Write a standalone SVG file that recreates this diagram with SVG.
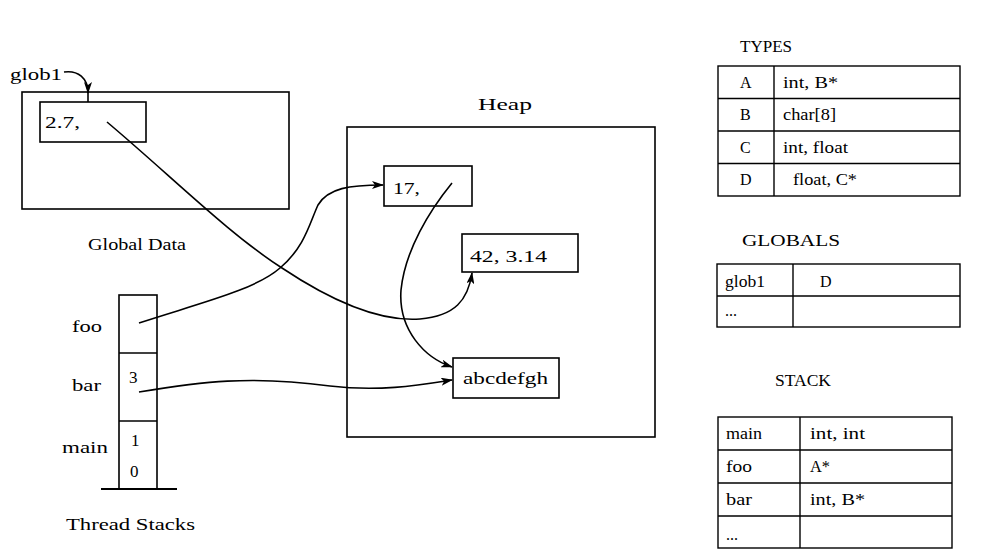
<svg xmlns="http://www.w3.org/2000/svg" width="997" height="556" viewBox="0 0 997 556">
<defs>
<marker id="ah" markerWidth="12" markerHeight="8" refX="11" refY="4" orient="auto" markerUnits="userSpaceOnUse">
<path d="M0,0 L12,4 L0,8 L3,4 Z" fill="#000"/>
</marker>
<style>
text{font-family:"Liberation Serif","Times New Roman",serif;fill:#000;}
.lbl{font-size:17px;}
.cell{font-size:16px;}
.box{fill:none;stroke:#000;stroke-width:1.6;}
.conn{fill:none;stroke:#000;stroke-width:1.6;}
.grid{fill:none;stroke:#000;stroke-width:1.4;}
</style>
</defs>
<rect width="997" height="556" fill="#fff"/>

<g id="global-data">
<rect class="box" x="22" y="92" width="267" height="117"/>
<text class="lbl" x="88" y="250" textLength="98" lengthAdjust="spacingAndGlyphs">Global Data</text>
</g>
<g id="glob1-label">
<text class="lbl" x="10" y="80" textLength="52" lengthAdjust="spacingAndGlyphs">glob1</text>
</g>
<g id="glob1-cell">
<rect class="box" x="40" y="102" width="106" height="40"/>
<text class="lbl" x="45" y="128" textLength="35" lengthAdjust="spacingAndGlyphs">2.7,</text>
</g>

<g id="heap">
<rect class="box" x="347" y="127" width="308" height="310"/>
<text class="lbl" x="478" y="110" textLength="54" lengthAdjust="spacingAndGlyphs">Heap</text>
</g>
<g id="heap-a">
<rect class="box" x="384" y="166" width="88" height="40"/>
<text class="lbl" x="393" y="194" textLength="27" lengthAdjust="spacingAndGlyphs">17,</text>
</g>
<g id="heap-c">
<rect class="box" x="462" y="234" width="116" height="38"/>
<text class="lbl" x="470" y="262" textLength="77" lengthAdjust="spacingAndGlyphs">42, 3.14</text>
</g>
<g id="heap-b">
<rect class="box" x="453" y="358" width="106" height="40"/>
<text class="lbl" x="463" y="384" textLength="85" lengthAdjust="spacingAndGlyphs">abcdefgh</text>
</g>

<g id="thread-stacks">
<rect class="box" x="119" y="295" width="38" height="194"/>
<line class="box" x1="119" y1="353" x2="157" y2="353"/>
<line class="box" x1="119" y1="421" x2="157" y2="421"/>
<line x1="101" y1="489" x2="177" y2="489" stroke="#000" stroke-width="2.2"/>
<text class="lbl" x="72" y="332" textLength="30" lengthAdjust="spacingAndGlyphs">foo</text>
<text class="lbl" x="72" y="391" textLength="29" lengthAdjust="spacingAndGlyphs">bar</text>
<text class="lbl" x="62" y="453" textLength="46" lengthAdjust="spacingAndGlyphs">main</text>
<text class="lbl" x="129" y="383">3</text>
<text class="lbl" x="131" y="446">1</text>
<text class="lbl" x="130" y="477">0</text>
<text class="lbl" x="66" y="530" textLength="129" lengthAdjust="spacingAndGlyphs">Thread Stacks</text>
</g>

<g id="connectors">
<path class="conn" d="M64,72 C78,70 88,78 88,93" marker-end="url(#ah)"/>
<line class="conn" x1="88" y1="92" x2="88" y2="102"/>
<path class="conn" d="M107,122 C170,175 230,235 282,268 C330,300 380,322 420,319 C455,316 468,300 472,273" marker-end="url(#ah)"/>
<path class="conn" d="M139,323 C200,303 255,290 280,268 C305,247 310,222 318,205 C328,188 350,185 383,185" marker-end="url(#ah)"/>
<path class="conn" d="M452,183 C430,210 405,250 401,290 C398,330 425,358 452,367" marker-end="url(#ah)"/>
<path class="conn" d="M139,392 C200,382 250,375 330,386 C380,392 420,385 452,380" marker-end="url(#ah)"/>
</g>

<g id="types-table">
<text class="cell" x="740" y="52" textLength="52" lengthAdjust="spacingAndGlyphs">TYPES</text>
<rect class="grid" x="718" y="66" width="242" height="130"/>
<line class="grid" x1="774" y1="66" x2="774" y2="196"/>
<line class="grid" x1="718" y1="98.5" x2="960" y2="98.5"/>
<line class="grid" x1="718" y1="131" x2="960" y2="131"/>
<line class="grid" x1="718" y1="163.5" x2="960" y2="163.5"/>
<text class="cell" x="740" y="88">A</text>
<text class="cell" x="740" y="120">B</text>
<text class="cell" x="740" y="153">C</text>
<text class="cell" x="740" y="185">D</text>
<text class="cell" x="783" y="88" textLength="55" lengthAdjust="spacingAndGlyphs">int, B*</text>
<text class="cell" x="783" y="120" textLength="53" lengthAdjust="spacingAndGlyphs">char[8]</text>
<text class="cell" x="783" y="153" textLength="65" lengthAdjust="spacingAndGlyphs">int, float</text>
<text class="cell" x="793" y="185" textLength="64" lengthAdjust="spacingAndGlyphs">float, C*</text>
</g>

<g id="globals-table">
<text class="cell" x="742" y="246" textLength="98" lengthAdjust="spacingAndGlyphs">GLOBALS</text>
<rect class="grid" x="717" y="264" width="243" height="63"/>
<line class="grid" x1="793" y1="264" x2="793" y2="327"/>
<line class="grid" x1="717" y1="296" x2="960" y2="296"/>
<text class="cell" x="725" y="287" textLength="40" lengthAdjust="spacingAndGlyphs">glob1</text>
<text class="cell" x="820" y="287">D</text>
<text class="cell" x="725" y="316">...</text>
</g>

<g id="stack-table">
<text class="cell" x="775" y="386" textLength="56" lengthAdjust="spacingAndGlyphs">STACK</text>
<rect class="grid" x="718" y="417" width="234" height="131"/>
<line class="grid" x1="800" y1="417" x2="800" y2="548"/>
<line class="grid" x1="718" y1="450" x2="952" y2="450"/>
<line class="grid" x1="718" y1="483" x2="952" y2="483"/>
<line class="grid" x1="718" y1="516" x2="952" y2="516"/>
<text class="cell" x="726" y="439" textLength="36" lengthAdjust="spacingAndGlyphs">main</text>
<text class="cell" x="810" y="439" textLength="55" lengthAdjust="spacingAndGlyphs">int, int</text>
<text class="cell" x="726" y="472" textLength="26" lengthAdjust="spacingAndGlyphs">foo</text>
<text class="cell" x="810" y="472" textLength="20" lengthAdjust="spacingAndGlyphs">A*</text>
<text class="cell" x="726" y="505" textLength="26" lengthAdjust="spacingAndGlyphs">bar</text>
<text class="cell" x="810" y="505" textLength="55" lengthAdjust="spacingAndGlyphs">int, B*</text>
<text class="cell" x="726" y="540">...</text>
</g>
</svg>
